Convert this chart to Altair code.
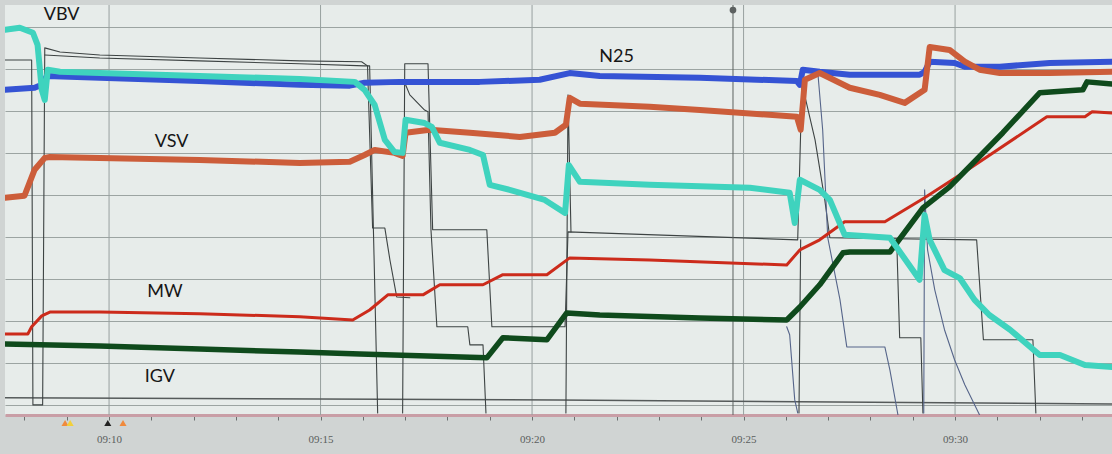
import altair as alt
import pandas as pd

# time axis: minutes after 09:00 ; values: % of trend range
n25_t = [7.54, 8.24, 8.41, 8.53, 9.78, 12.14, 14.51, 15.69, 16.04, 16.87, 18.76, 20.18, 20.89, 21.60, 23.97,
         26.26, 26.33, 26.40, 26.80, 27.51, 29.16, 29.28, 29.40, 29.99, 30.23, 31.06, 32.24, 33.71]
n25_v = [85.0, 85.5, 86.2, 88.3, 87.9, 87.1, 86.2, 86.0, 86.7, 86.9, 86.9, 87.4, 89.0, 88.3, 87.9,
         87.1, 86.2, 89.8, 89.3, 88.6, 88.6, 89.3, 91.7, 91.4, 90.5, 90.5, 91.4, 91.7]

vsv_t = [7.54, 8.00, 8.24, 8.48, 8.60, 9.78, 12.14, 14.51, 15.69, 16.04, 16.28, 16.75, 16.94, 17.01, 17.58,
         18.53, 19.71, 20.54, 20.80, 20.89, 21.13, 22.78, 23.97, 26.26, 26.35, 26.45, 26.80, 27.51, 28.22,
         28.81, 29.28, 29.40, 29.87, 30.23, 30.58, 31.06, 32.24, 33.71]
vsv_v = [59.3, 59.8, 66.0, 68.8, 69.0, 68.8, 68.3, 67.6, 67.9, 69.5, 70.7, 70.0, 69.3, 74.8, 75.5,
         74.8, 73.8, 74.8, 76.7, 83.1, 81.7, 81.0, 80.2, 78.6, 75.5, 87.4, 89.0, 85.5, 83.8,
         81.9, 85.0, 95.2, 94.5, 91.7, 89.8, 89.0, 89.0, 89.3]

vbv_t = [7.54, 7.89, 8.20, 8.31, 8.41, 8.48, 8.55, 8.84, 9.78, 12.14, 14.51, 15.81, 16.04, 16.28, 16.52,
         16.75, 16.94, 17.01, 17.46, 17.63, 17.82, 18.53, 18.84, 19.00, 19.47, 20.30, 20.78, 20.87, 21.13,
         22.78, 25.15, 26.09, 26.21, 26.33, 26.80, 27.04, 27.39, 28.46, 29.16, 29.28, 29.40, 29.75, 30.11,
         30.46, 30.81, 31.30, 32.00, 32.48, 33.07, 33.71]
vbv_v = [99.3, 99.8, 98.6, 95.7, 85.0, 82.6, 89.8, 89.3, 89.0, 88.3, 87.6, 86.9, 85.0, 81.4, 73.1,
         70.2, 70.0, 77.9, 77.1, 76.2, 72.4, 70.7, 69.5, 62.4, 61.2, 58.8, 55.7, 67.1, 63.1,
         62.4, 61.7, 60.5, 53.3, 63.6, 61.2, 58.8, 50.5, 49.8, 39.8, 55.2, 49.3, 42.1, 40.2,
         35.0, 31.4, 27.9, 21.9, 21.9, 19.5, 19.0]

mw_t = [7.54, 8.08, 8.17, 8.41, 8.60, 9.78, 12.14, 14.51, 15.76, 16.16, 16.59, 17.42, 17.82, 18.84, 19.31,
        20.35, 20.89, 22.78, 26.02, 26.33, 26.80, 27.39, 28.34, 29.28, 30.23, 32.17, 33.07, 33.24, 33.71]
mw_v = [26.9, 26.9, 28.6, 31.2, 32.1, 32.1, 31.7, 31.0, 30.2, 32.6, 36.2, 36.2, 38.6, 38.6, 41.0,
        41.0, 45.0, 44.5, 43.3, 46.9, 49.3, 53.6, 53.6, 59.3, 65.5, 78.6, 78.6, 79.8, 79.5]

igv_t = [7.54, 9.78, 12.14, 14.51, 15.93, 18.93, 19.31, 20.35, 20.82, 21.60, 23.97, 26.02, 26.33, 26.80,
         27.35, 27.51, 28.46, 29.24, 29.87, 31.13, 32.00, 33.02, 33.12, 33.71]
igv_v = [24.5, 24.0, 23.3, 22.6, 22.1, 21.2, 26.0, 25.5, 31.9, 31.4, 30.7, 30.2, 33.3, 38.6,
         46.2, 46.4, 46.4, 56.9, 61.9, 74.8, 84.3, 85.0, 86.9, 86.4]

# thin valve / position traces
thin1_t = [7.54, 8.17, 8.20, 8.43, 8.48, 8.84, 9.78, 12.14, 14.51, 15.97, 16.11, 16.23, 16.52, 16.64, 16.80, 17.11]
thin1_v = [92.1, 92.1, 10.0, 10.0, 95.0, 94.0, 93.3, 92.6, 91.9, 91.7, 90.7, 52.1, 52.1, 44.5, 35.7, 35.5]
thin2_t = [8.48, 9.78, 12.14, 14.51, 16.04, 16.16, 16.35]
thin2_v = [93.3, 92.6, 91.9, 91.2, 90.7, 90.7, 8.1]
thin3_t = [16.94, 16.99, 17.54, 17.65, 18.93, 19.05, 20.78, 20.85, 26.28, 26.38, 26.47, 26.69, 26.92, 27.04,
           30.51, 30.67, 31.84, 31.91]
thin3_v = [8.1, 91.2, 91.2, 51.7, 51.7, 28.6, 28.6, 51.2, 49.3, 86.2, 82.6, 73.1, 58.8, 49.8,
           49.3, 25.5, 25.5, 8.1]
thin4_t = [17.01, 17.11, 17.46, 17.54, 17.61, 17.75, 18.48, 18.53, 18.84, 18.91]
thin4_v = [86.2, 83.8, 80.2, 79.8, 51.7, 28.6, 28.6, 24.3, 24.3, 8.1]
thin5_t = [20.80, 20.85, 20.92]
thin5_v = [8.1, 83.8, 51.2]
thin6_t = [26.31, 26.35]
thin6_v = [8.1, 49.3]
bottom_t = [7.54, 20.6, 33.71]
bottom_v = [11.7, 11.2, 10.2]

navy1_t = [26.02, 26.09, 26.21, 26.28]
navy1_v = [28.6, 26.7, 11.2, 8.1]
navy2_t = [26.76, 26.87, 26.99, 27.28, 27.44, 28.34, 28.46, 28.65]
navy2_v = [88.6, 75.5, 49.8, 35.0, 23.8, 23.8, 18.3, 7.6]
navy3_t = [28.62, 28.69, 29.19, 29.24]
navy3_v = [49.3, 26.0, 26.0, 8.1]
navy4_t = [29.26, 29.28, 29.35, 29.52, 29.75, 29.99, 30.23, 30.58]
navy4_v = [8.1, 61.2, 46.9, 37.4, 27.9, 20.7, 14.8, 7.6]

grid_minutes = [10, 15, 20, 25, 30]
tick_minutes = list(range(8, 34))
grid_values = [10, 20, 30, 40, 50, 60, 70, 80, 90, 100]

label_text = ["VBV", "N25", "VSV", "MW", "IGV"]
label_t = [8.88, 22.00, 11.48, 11.32, 11.20]
label_v = [102.9, 92.9, 72.6, 36.9, 16.7]

cursor_t = [24.75]
cursor_v = [104.0]

event_t = [8.96, 9.08, 9.97, 10.33]
event_v = [5.7, 5.7, 5.7, 5.7]
event_c = ["#f08a3c", "#f2d03a", "#222222", "#f08a3c"]

XDOM = [7.54, 33.71]
YDOM = [7.6, 105.2]

x_axis = alt.Axis(
    values=tick_minutes,
    labelExpr="datum.value % 5 == 0 ? '09:' + datum.value : ''",
    grid=False, title=None, domainColor="#c99ea6", domainWidth=3,
    tickColor="#6b6f6e", tickSize=5, tickWidth=1,
    labelColor="#5a5e5d", labelFont="Liberation Sans Narrow", labelFontSize=11,
    labelPadding=13, labelOverlap=False, labelFlush=False,
)
y_axis = alt.Axis(values=grid_values, grid=True, gridColor="#9ca4a2", gridWidth=1,
                  labels=False, ticks=False, domain=False, title=None)

X = lambda: alt.X("t:Q", scale=alt.Scale(domain=XDOM, nice=False, zero=False), axis=x_axis)
Y = lambda: alt.Y("v:Q", scale=alt.Scale(domain=YDOM, nice=False, zero=False), axis=y_axis)


def df(t, v):
    return pd.DataFrame({"t": t, "v": v, "i": list(range(len(t)))})


def line(t, v, color, width, opacity=1.0):
    return alt.Chart(df(t, v)).mark_line(
        color=color, strokeWidth=width, clip=True, opacity=opacity,
        strokeJoin="round", strokeCap="round"
    ).encode(x=X(), y=Y(), order="i:Q")


grid_layer = alt.Chart(pd.DataFrame({"t": grid_minutes, "v": [50] * len(grid_minutes)})).mark_rule(
    color="#98a19f", strokeWidth=1).encode(x=X())
grid_h = alt.Chart(pd.DataFrame({"t": [20], "v": [50]})).mark_point(opacity=0).encode(x=X(), y=Y())

thin_col = "#3d4343"
navy_col = "#56658a"
layers = [
    grid_layer, grid_h,
    line(bottom_t, bottom_v, "#555a5a", 1.5),
    line(thin1_t, thin1_v, thin_col, 1.1),
    line(thin2_t, thin2_v, thin_col, 1.1),
    line(thin3_t, thin3_v, thin_col, 1.1),
    line(thin4_t, thin4_v, thin_col, 1.1),
    line(thin5_t, thin5_v, thin_col, 1.1),
    line(thin6_t, thin6_v, thin_col, 1.1),
    line(navy1_t, navy1_v, navy_col, 1.1),
    line(navy2_t, navy2_v, navy_col, 1.1),
    line(navy3_t, navy3_v, thin_col, 1.1),
    line(navy4_t, navy4_v, navy_col, 1.1),
]

cursor = alt.Chart(pd.DataFrame({"t": cursor_t, "v": cursor_v})).mark_rule(
    color="#5c6160", strokeWidth=1).encode(x=X())
cursor_dot = alt.Chart(pd.DataFrame({"t": cursor_t, "v": cursor_v})).mark_point(
    filled=True, size=45, color="#5c6160", opacity=1).encode(x=X(), y=Y())
layers += [cursor, cursor_dot]

layers += [
    line(n25_t, n25_v, "#3553d4", 6),
    line(mw_t, mw_v, "#cc2b1b", 3),
    line(igv_t, igv_v, "#0f4a1c", 5.5),
    line(vsv_t, vsv_v, "#cc5d3a", 6),
    line(vbv_t, vbv_v, "#3fd3be", 6),
]

labels = alt.Chart(pd.DataFrame({"t": label_t, "v": label_v, "txt": label_text})).mark_text(
    font="Lato", fontSize=18, color="#161616", align="center", baseline="middle"
).encode(x=X(), y=Y(), text="txt:N")

events = alt.Chart(pd.DataFrame({"t": event_t, "v": event_v, "c": event_c})).mark_point(
    shape="triangle-up", filled=True, size=50, opacity=1
).encode(x=X(), y=Y(), color=alt.Color("c:N", scale=None))

layers += [labels, events]

chart = alt.layer(*layers).properties(
    width=1107, height=410,
    autosize=alt.AutoSizeParams(type="none"),
    padding={"left": 5, "top": 5, "right": 0, "bottom": 39},
    background="#d0d4d3",
).configure_view(fill="#e7ecea", stroke=None)

chart.save("out.html", embed_options={"renderer": "svg", "actions": False})
